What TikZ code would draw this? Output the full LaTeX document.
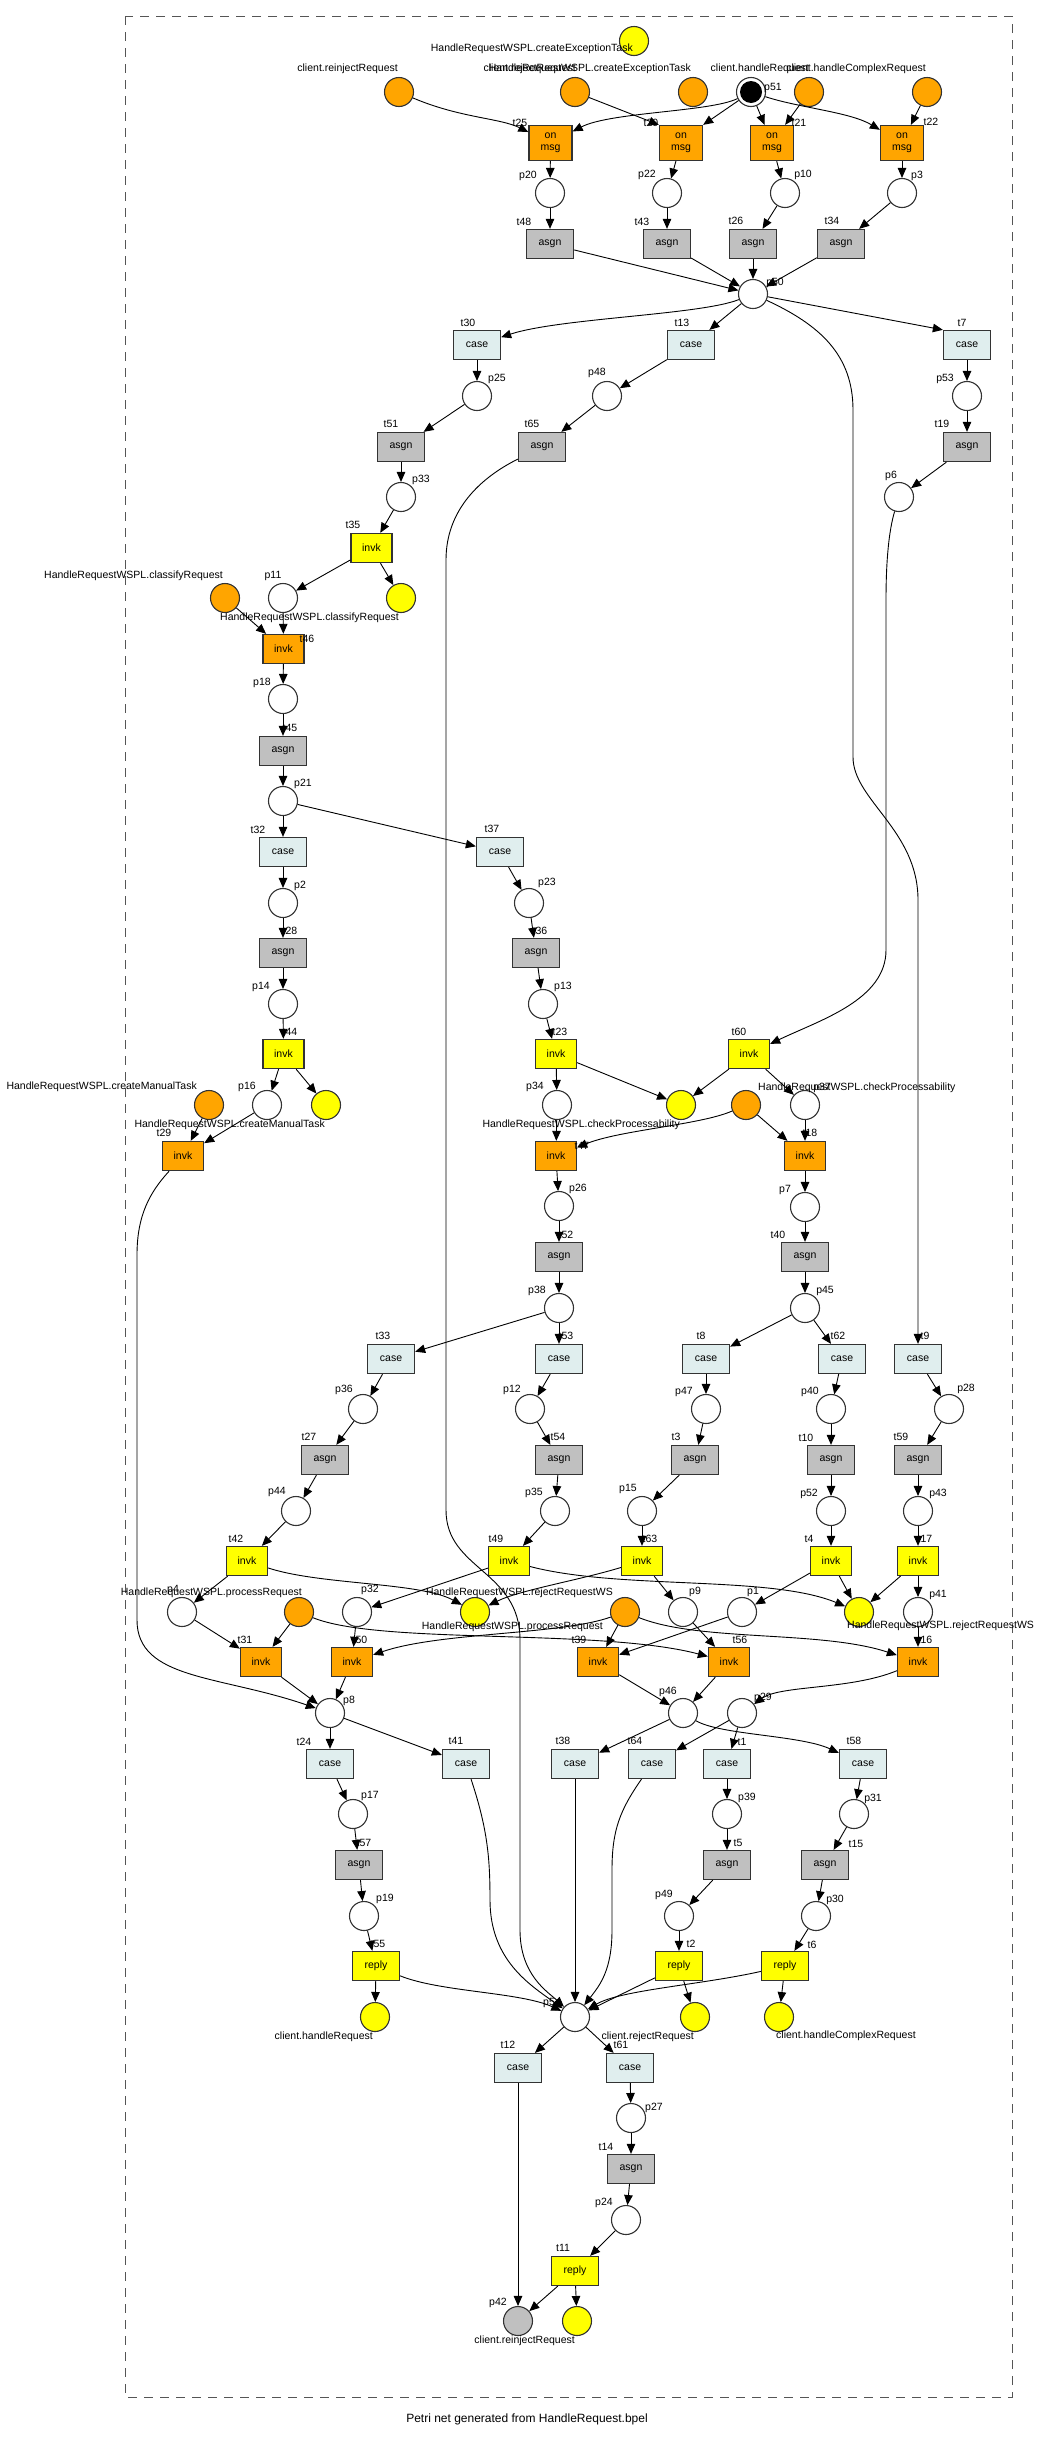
\documentclass[tikz,border=0pt]{standalone}
\usepackage{fontspec}
\setmainfont{Liberation Sans}
\usetikzlibrary{arrows.meta}
\definecolor{orangeC}{HTML}{FFA500}
\definecolor{yellowC}{HTML}{FFFF00}
\definecolor{grayC}{HTML}{C0C0C0}
\definecolor{caseC}{HTML}{E0EEEE}
\definecolor{bdC}{HTML}{333333}
\definecolor{frameC}{HTML}{555555}
\newcommand\lblfont{\fontsize{10.5}{11.7}\selectfont}
\tikzset{
 pl/.style={circle, draw=bdC, line width=1.1pt, minimum size=29pt, inner sep=0pt, fill=white},
 plO/.style={pl, fill=orangeC},
 plY/.style={pl, fill=yellowC},
 plG/.style={pl, fill=grayC},
 tr/.style={rectangle, draw=bdC, line width=1.3pt, minimum width=47pt, minimum height=29pt, inner sep=0pt, font=\lblfont},
 asgn/.style={tr, fill=grayC},
 casebox/.style={tr, fill=caseC},
 invkY/.style={tr, minimum width=41pt, fill=yellowC},
 invkO/.style={tr, minimum width=41pt, fill=orangeC},
 replybox/.style={tr, fill=yellowC},
 onmsg/.style={tr, minimum width=43pt, minimum height=35pt, fill=orangeC, align=center},
 lab/.style={inner sep=0pt, font=\lblfont},
 edg/.style={draw=black, line width=0.9pt, -{Triangle[length=10pt,width=8.5pt]}},
}
\begin{document}
\begin{tikzpicture}[x=1pt,y=-1pt]
\useasboundingbox (0,0) rectangle (1057,2439);
\fill[white] (0,0) rectangle (1057,2439);
\draw[frameC, line width=1pt, dash pattern=on 9pt off 7pt] (125,16) rectangle (1012,2397);

% ---------- places ----------
\node[plO] (oRein) at (399,92) {};
\node[plO] (oRej) at (575,92) {};
\node[plO] (oExc) at (693,92) {};
\node[pl] (p51) at (751,92) {};
\fill[black] (p51.center) circle[radius=11pt];
\node[plO] (oHR) at (809,92) {};
\node[plO] (oHCR) at (927,92) {};
\node[plY] (yExc) at (634,41) {};
\node[pl] (p20) at (550,193) {};
\node[pl] (p22) at (667,193) {};
\node[pl] (p10) at (785,193) {};
\node[pl] (p3) at (902,193) {};
\node[pl] (p50) at (753,294) {};
\node[pl] (p25) at (477,396) {};
\node[pl] (p48) at (607,396) {};
\node[pl] (p53) at (967,396) {};
\node[pl] (p33) at (401,497) {};
\node[pl] (p6) at (899,497) {};
\node[pl] (p11) at (283,598) {};
\node[plY] (yCls) at (401,598) {};
\node[plO] (oCls) at (225,598) {};
\node[pl] (p18) at (283,699) {};
\node[pl] (p21) at (283,801) {};
\node[pl] (p2) at (283,903) {};
\node[pl] (p23) at (529,903) {};
\node[pl] (p14) at (283,1004) {};
\node[pl] (p13) at (543,1004) {};
\node[pl] (p16) at (267,1105) {};
\node[plY] (yMan) at (326,1105) {};
\node[plO] (oMan) at (209,1105) {};
\node[pl] (p34) at (557,1105) {};
\node[plY] (yChk) at (681,1105) {};
\node[plO] (oChk) at (746,1105) {};
\node[pl] (p37) at (805,1105) {};
\node[pl] (p26) at (559,1206) {};
\node[pl] (p7) at (805,1207) {};
\node[pl] (p38) at (559,1308) {};
\node[pl] (p45) at (805,1308) {};
\node[pl] (p36) at (363,1409) {};
\node[pl] (p12) at (530,1409) {};
\node[pl] (p47) at (706,1409) {};
\node[pl] (p40) at (831,1409) {};
\node[pl] (p28) at (949,1409) {};
\node[pl] (p44) at (296,1511) {};
\node[pl] (p35) at (555,1511) {};
\node[pl] (p15) at (642,1511) {};
\node[pl] (p52) at (831,1511) {};
\node[pl] (p43) at (918,1511) {};
\node[pl] (p4) at (182,1612) {};
\node[plO] (oProc) at (299,1612) {};
\node[pl] (p32) at (357,1612) {};
\node[plY] (yRejA) at (475,1612) {};
\node[plO] (oRejWS) at (625,1612) {};
\node[pl] (p9) at (683,1612) {};
\node[pl] (p1) at (742,1612) {};
\node[plY] (yRejB) at (859,1612) {};
\node[pl] (p41) at (918,1612) {};
\node[pl] (p8) at (330,1713) {};
\node[pl] (p46) at (683,1713) {};
\node[pl] (p29) at (742,1713) {};
\node[pl] (p17) at (353,1814) {};
\node[pl] (p39) at (727,1814) {};
\node[pl] (p31) at (854,1814) {};
\node[pl] (p19) at (364,1916) {};
\node[pl] (p49) at (679,1916) {};
\node[pl] (p30) at (816,1916) {};
\node[plY] (yHR) at (375,2017) {};
\node[pl] (pM) at (575,2017) {};
\node[plY] (yRejR) at (695,2017) {};
\node[plY] (yHCR) at (779,2017) {};
\node[pl] (p27) at (631,2118) {};
\node[pl] (p24) at (626,2220) {};
\node[plG] (p42) at (518,2321) {};
\node[plY] (yRein) at (577,2321) {};

% ---------- transitions ----------
\node[onmsg] (t25) at (550.5,143) {on\\msg};
\node[onmsg] (t20) at (681,143) {on\\msg};
\node[onmsg] (t21) at (772,143) {on\\msg};
\node[onmsg] (t22) at (902,143) {on\\msg};
\node[asgn] (t48) at (550,244) {asgn};
\node[asgn] (t43) at (667,244) {asgn};
\node[asgn] (t26) at (753,244) {asgn};
\node[asgn] (t34) at (841,244) {asgn};
\node[casebox] (t30) at (477,345) {case};
\node[casebox] (t13) at (691,345) {case};
\node[casebox] (t7) at (967,345) {case};
\node[asgn] (t51) at (401,447) {asgn};
\node[asgn] (t65) at (542,447) {asgn};
\node[asgn] (t19) at (967,447) {asgn};
\node[invkY] (t35) at (371.5,548) {invk};
\node[invkO] (t46) at (283.5,649) {invk};
\node[asgn] (t45) at (283,751) {asgn};
\node[casebox] (t32) at (283,852) {case};
\node[casebox] (t37) at (500,852) {case};
\node[asgn] (t28) at (283,953) {asgn};
\node[asgn] (t36) at (536,953) {asgn};
\node[invkY] (t44) at (283.5,1054) {invk};
\node[invkY] (t23) at (556,1054) {invk};
\node[invkY] (t60) at (749,1054) {invk};
\node[invkO] (t29) at (183,1156) {invk};
\node[invkO] (t47) at (556,1156) {invk};
\node[invkO] (t18) at (805,1156) {invk};
\node[asgn] (t52) at (559,1257) {asgn};
\node[asgn] (t40) at (805,1257) {asgn};
\node[casebox] (t33) at (391,1359) {case};
\node[casebox] (t53) at (559,1359) {case};
\node[casebox] (t8) at (706,1359) {case};
\node[casebox] (t62) at (842,1359) {case};
\node[casebox] (t9) at (918,1359) {case};
\node[asgn] (t27) at (325,1460) {asgn};
\node[asgn] (t54) at (559,1460) {asgn};
\node[asgn] (t3) at (695,1460) {asgn};
\node[asgn] (t10) at (831,1460) {asgn};
\node[asgn] (t59) at (918,1460) {asgn};
\node[invkY] (t42) at (247,1561) {invk};
\node[invkY] (t49) at (509,1561) {invk};
\node[invkY] (t63) at (642,1561) {invk};
\node[invkY] (t4) at (831,1561) {invk};
\node[invkY] (t17) at (918,1561) {invk};
\node[invkO] (t31) at (261,1662) {invk};
\node[invkO] (t50) at (352,1662) {invk};
\node[invkO] (t39) at (598,1662) {invk};
\node[invkO] (t56) at (729,1662) {invk};
\node[invkO] (t16) at (918,1662) {invk};
\node[casebox] (t24) at (330,1764) {case};
\node[casebox] (t41) at (466,1764) {case};
\node[casebox] (t38) at (575,1764) {case};
\node[casebox] (t64) at (652,1764) {case};
\node[casebox] (t1) at (727,1764) {case};
\node[casebox] (t58) at (863,1764) {case};
\node[asgn] (t57) at (359,1865) {asgn};
\node[asgn] (t5) at (727,1865) {asgn};
\node[asgn] (t15) at (825,1865) {asgn};
\node[replybox] (t55) at (376,1966) {reply};
\node[replybox] (t2) at (679,1966) {reply};
\node[replybox] (t6) at (785,1966) {reply};
\node[casebox] (t12) at (518,2068) {case};
\node[casebox] (t61) at (630,2068) {case};
\node[asgn] (t14) at (631,2169) {asgn};
\node[replybox] (t11) at (575,2271) {reply};

% ---------- arcs ----------
\draw[edg] (oRein) .. controls (460,118) and (500,118) .. (t25);
\draw[edg] (oRej) -- (t20.north west);
\draw[edg] (p51) .. controls (710,112) and (610,112) .. (t25);
\draw[edg] (p51) -- (t20.north east);
\draw[edg] (p51) -- (t21);
\draw[edg] (p51) .. controls (800,108) and (850,112) .. (t22);
\draw[edg] (oHR) -- (t21);
\draw[edg] (oHCR) -- (t22);
\draw[edg] (t25) -- (p20);
\draw[edg] (t20) -- (p22);
\draw[edg] (t21) -- (p10);
\draw[edg] (t22) -- (p3);
\draw[edg] (p20) -- (t48);
\draw[edg] (p22) -- (t43);
\draw[edg] (p10) -- (t26);
\draw[edg] (p3) -- (t34);
\draw[edg] (t48) -- (p50);
\draw[edg] (t43) -- (p50);
\draw[edg] (t26) -- (p50);
\draw[edg] (t34) -- (p50);
\draw[edg] (p50) .. controls (700,315) and (560,318) .. (t30);
\draw[edg] (p50) -- (t13);
\draw[edg] (p50) -- (t7.north west);
\draw[edg] (p50) .. controls (820,325) and (853,355) .. (853,410) -- (853,757) .. controls (853,800) and (918,830) .. (918,900) -- (t9);
\draw[edg] (t30) -- (p25);
\draw[edg] (t13) -- (p48);
\draw[edg] (t7) -- (p53);
\draw[edg] (p25) -- (t51);
\draw[edg] (p48) -- (t65);
\draw[edg] (p53) -- (t19);
\draw[edg] (t51) -- (p33);
\draw[edg] (t19) -- (p6);
\draw[edg] (p33) -- (t35);
\draw[edg] (t35) -- (p11);
\draw[edg] (t35) -- (yCls);
\draw[edg] (oCls) -- (t46);
\draw[edg] (p11) -- (t46);
\draw[edg] (t46) -- (p18);
\draw[edg] (p18) -- (t45);
\draw[edg] (t45) -- (p21);
\draw[edg] (p21) -- (t32);
\draw[edg] (p21) -- (t37);
\draw[edg] (t32) -- (p2);
\draw[edg] (p2) -- (t28);
\draw[edg] (t28) -- (p14);
\draw[edg] (p14) -- (t44);
\draw[edg] (t44) -- (p16);
\draw[edg] (t44) -- (yMan);
\draw[edg] (oMan) -- (t29);
\draw[edg] (p16) -- (t29);
\draw[edg] (t37) -- (p23);
\draw[edg] (p23) -- (t36);
\draw[edg] (t36) -- (p13);
\draw[edg] (p13) -- (t23);
\draw[edg] (t23) -- (p34);
\draw[edg] (t23) -- (yChk);
\draw[edg] (p6) .. controls (889,530) and (886,560) .. (886,600) -- (886,950) .. controls (886,1000) and (820,1020) .. (t60);
\draw[edg] (t60) -- (yChk);
\draw[edg] (t60) -- (p37);
\draw[edg] (p34) -- (t47);
\draw[edg] (oChk) .. controls (700,1125) and (620,1130) .. (t47);
\draw[edg] (oChk) -- (t18);
\draw[edg] (p37) -- (t18);
\draw[edg] (t47) -- (p26);
\draw[edg] (t18) -- (p7);
\draw[edg] (p26) -- (t52);
\draw[edg] (p7) -- (t40);
\draw[edg] (t52) -- (p38);
\draw[edg] (t40) -- (p45);
\draw[edg] (p38) -- (t33);
\draw[edg] (p38) -- (t53);
\draw[edg] (p45) -- (t8);
\draw[edg] (p45) -- (t62);
\draw[edg] (t33) -- (p36);
\draw[edg] (p36) -- (t27);
\draw[edg] (t27) -- (p44);
\draw[edg] (p44) -- (t42);
\draw[edg] (t53) -- (p12);
\draw[edg] (p12) -- (t54);
\draw[edg] (t54) -- (p35);
\draw[edg] (p35) -- (t49);
\draw[edg] (t8) -- (p47);
\draw[edg] (p47) -- (t3);
\draw[edg] (t3) -- (p15);
\draw[edg] (p15) -- (t63);
\draw[edg] (t62) -- (p40);
\draw[edg] (p40) -- (t10);
\draw[edg] (t10) -- (p52);
\draw[edg] (p52) -- (t4);
\draw[edg] (t9) -- (p28);
\draw[edg] (p28) -- (t59);
\draw[edg] (t59) -- (p43);
\draw[edg] (p43) -- (t17);
\draw[edg] (t42) -- (p4);
\draw[edg] (t42) .. controls (320,1585) and (420,1582) .. (yRejA);
\draw[edg] (t49) -- (p32);
\draw[edg] (t49) .. controls (620,1590) and (770,1575) .. (yRejB);
\draw[edg] (t63) .. controls (580,1580) and (520,1590) .. (yRejA);
\draw[edg] (t63) -- (p9);
\draw[edg] (t4) -- (p1);
\draw[edg] (t4) -- (yRejB);
\draw[edg] (t17) -- (yRejB);
\draw[edg] (t17) -- (p41);
\draw[edg] (p4) -- (t31);
\draw[edg] (oProc) -- (t31);
\draw[edg] (p32) -- (t50);
\draw[edg] (oProc) .. controls (380,1645) and (600,1628) .. (t56);
\draw[edg] (oRejWS) .. controls (560,1635) and (440,1632) .. (t50);
\draw[edg] (oRejWS) -- (t39);
\draw[edg] (oRejWS) .. controls (700,1642) and (820,1630) .. (t16);
\draw[edg] (p9) -- (t56);
\draw[edg] (p1) -- (t39);
\draw[edg] (p41) -- (t16);
\draw[edg] (t29) .. controls (150,1192) and (137,1215) .. (137,1255) -- (137,1620) .. controls (137,1680) and (220,1675) .. (p8);
\draw[edg] (t31) -- (p8);
\draw[edg] (t50) -- (p8);
\draw[edg] (t39) -- (p46);
\draw[edg] (t56) -- (p46);
\draw[edg] (t16) .. controls (850,1690) and (780,1685) .. (p29);
\draw[edg] (p8) -- (t24);
\draw[edg] (p8) -- (t41);
\draw[edg] (p46) -- (t38);
\draw[edg] (p46) .. controls (720,1735) and (800,1735) .. (t58);
\draw[edg] (p29) -- (t64);
\draw[edg] (p29) -- (t1);
\draw[edg] (t24) -- (p17);
\draw[edg] (p17) -- (t57);
\draw[edg] (t57) -- (p19);
\draw[edg] (p19) -- (t55);
\draw[edg] (t55) -- (yHR);
\draw[edg] (t1) -- (p39);
\draw[edg] (p39) -- (t5);
\draw[edg] (t5) -- (p49);
\draw[edg] (p49) -- (t2);
\draw[edg] (t2) -- (yRejR);
\draw[edg] (t58) -- (p31);
\draw[edg] (p31) -- (t15);
\draw[edg] (t15) -- (p30);
\draw[edg] (p30) -- (t6);
\draw[edg] (t6) -- (yHCR);
\draw[edg] (t41) .. controls (488,1830) and (490,1860) .. (490,1900) .. controls (490,1960) and (530,1985) .. (pM);
\draw[edg] (t65) .. controls (480,478) and (446,510) .. (446,560) -- (446,1510) .. controls (446,1570) and (520,1570) .. (520,1640) -- (520,1930) .. controls (520,1975) and (548,1992) .. (pM);
\draw[edg] (t38) -- (pM);
\draw[edg] (t55) .. controls (440,1992) and (520,1992) .. (pM);
\draw[edg] (t64) .. controls (620,1810) and (612,1830) .. (612,1870) -- (612,1930) .. controls (612,1970) and (600,1985) .. (pM);
\draw[edg] (t2) -- (pM);
\draw[edg] (t6) .. controls (700,1985) and (620,1990) .. (pM);
\draw[edg] (pM) -- (t12);
\draw[edg] (pM) -- (t61);
\draw[edg] (t12) -- (p42);
\draw[edg] (t61) -- (p27);
\draw[edg] (p27) -- (t14);
\draw[edg] (t14) -- (p24);
\draw[edg] (p24) -- (t11);
\draw[edg] (t11) -- (p42);
\draw[edg] (t11) -- (yRein);

% ---------- transition name labels ----------
\node[lab] (lt25) at (520,123) {t25};
\node[lab] (lt20) at (651,123) {t20};
\node[lab] (lt21) at (799,123) {t21};
\node[lab] (lt22) at (931,122) {t22};
\node[lab] (lt48) at (524,222) {t48};
\node[lab] (lt43) at (642,222) {t43};
\node[lab] (lt26) at (736,221) {t26};
\node[lab] (lt34) at (832,221) {t34};
\node[lab] (lt30) at (468,323) {t30};
\node[lab] (lt13) at (682,323) {t13};
\node[lab] (lt7) at (962,323) {t7};
\node[lab] (lt51) at (391,424) {t51};
\node[lab] (lt65) at (532,424) {t65};
\node[lab] (lt19) at (942,424) {t19};
\node[lab] (lt35) at (353,525) {t35};
\node[lab] (lt46) at (307,639) {t46};
\node[lab] (lt45) at (290,728) {t45};
\node[lab] (lt32) at (258,830) {t32};
\node[lab] (lt37) at (492,829) {t37};
\node[lab] (lt28) at (290,931) {t28};
\node[lab] (lt36) at (540,931) {t36};
\node[lab] (lt44) at (290,1032) {t44};
\node[lab] (lt23) at (560,1032) {t23};
\node[lab] (lt60) at (739,1032) {t60};
\node[lab] (lt29) at (164,1133) {t29};
\node[lab] (lt47) at (582,1146) {t47};
\node[lab] (lt18) at (810,1133) {t18};
\node[lab] (lt40) at (778,1235) {t40};
\node[lab] (lt52) at (566,1235) {t52};
\node[lab] (lt33) at (383,1336) {t33};
\node[lab] (lt53) at (566,1336) {t53};
\node[lab] (lt8) at (701,1336) {t8};
\node[lab] (lt62) at (838,1336) {t62};
\node[lab] (lt9) at (925,1336) {t9};
\node[lab] (lt27) at (309,1437) {t27};
\node[lab] (lt54) at (558,1437) {t54};
\node[lab] (lt3) at (676,1437) {t3};
\node[lab] (lt10) at (806,1438) {t10};
\node[lab] (lt59) at (901,1437) {t59};
\node[lab] (lt42) at (236,1539) {t42};
\node[lab] (lt49) at (496,1539) {t49};
\node[lab] (lt63) at (650,1539) {t63};
\node[lab] (lt4) at (809,1539) {t4};
\node[lab] (lt17) at (925,1539) {t17};
\node[lab] (lt31) at (245,1640) {t31};
\node[lab] (lt50) at (360,1640) {t50};
\node[lab] (lt39) at (579,1640) {t39};
\node[lab] (lt56) at (740,1640) {t56};
\node[lab] (lt16) at (925,1640) {t16};
\node[lab] (lt24) at (304,1742) {t24};
\node[lab] (lt41) at (456,1741) {t41};
\node[lab] (lt38) at (563,1741) {t38};
\node[lab] (lt64) at (635,1741) {t64};
\node[lab] (lt1) at (742,1742) {t1};
\node[lab] (lt58) at (854,1741) {t58};
\node[lab] (lt57) at (364,1843) {t57};
\node[lab] (lt5) at (738,1843) {t5};
\node[lab] (lt15) at (856,1844) {t15};
\node[lab] (lt55) at (378,1944) {t55};
\node[lab] (lt2) at (691,1944) {t2};
\node[lab] (lt6) at (812,1945) {t6};
\node[lab] (lt12) at (508,2045) {t12};
\node[lab] (lt61) at (621,2045) {t61};
\node[lab] (lt14) at (606,2147) {t14};
\node[lab] (lt11) at (563,2248) {t11};

% ---------- place name labels ----------
\node[lab] (lp51) at (773,88) {p51};
\node[lab] (lp20) at (528,176) {p20};
\node[lab] (lp22) at (647,175) {p22};
\node[lab] (lp10) at (803,175) {p10};
\node[lab] (lp3) at (917,176) {p3};
\node[lab] (lp50) at (775,283) {p50};
\node[lab] (lp25) at (497,379) {p25};
\node[lab] (lp48) at (597,373) {p48};
\node[lab] (lp53) at (945,379) {p53};
\node[lab] (lp33) at (421,480) {p33};
\node[lab] (lp6) at (891,476) {p6};
\node[lab] (lp11) at (273,576) {p11};
\node[lab] (lp18) at (262,683) {p18};
\node[lab] (lp21) at (303,784) {p21};
\node[lab] (lp2) at (300,886) {p2};
\node[lab] (lp23) at (547,883) {p23};
\node[lab] (lp14) at (261,987) {p14};
\node[lab] (lp13) at (563,987) {p13};
\node[lab] (lp16) at (247,1087) {p16};
\node[lab] (lp34) at (535,1087) {p34};
\node[lab] (lp37) at (822,1088) {p37};
\node[lab] (lp26) at (578,1189) {p26};
\node[lab] (lp7) at (785,1190) {p7};
\node[lab] (lp38) at (537,1291) {p38};
\node[lab] (lp45) at (825,1291) {p45};
\node[lab] (lp36) at (344,1390) {p36};
\node[lab] (lp12) at (512,1390) {p12};
\node[lab] (lp47) at (684,1392) {p47};
\node[lab] (lp40) at (810,1392) {p40};
\node[lab] (lp28) at (966,1389) {p28};
\node[lab] (lp44) at (277,1492) {p44};
\node[lab] (lp35) at (534,1493) {p35};
\node[lab] (lp15) at (628,1489) {p15};
\node[lab] (lp52) at (809,1494) {p52};
\node[lab] (lp43) at (938,1494) {p43};
\node[lab] (lp4) at (173,1590) {p4};
\node[lab] (lp32) at (370,1590) {p32};
\node[lab] (lp9) at (695,1592) {p9};
\node[lab] (lp1) at (753,1592) {p1};
\node[lab] (lp41) at (938,1595) {p41};
\node[lab] (lp8) at (349,1701) {p8};
\node[lab] (lp46) at (668,1692) {p46};
\node[lab] (lp29) at (763,1698) {p29};
\node[lab] (lp17) at (370,1796) {p17};
\node[lab] (lp39) at (747,1798) {p39};
\node[lab] (lp31) at (873,1799) {p31};
\node[lab] (lp19) at (385,1899) {p19};
\node[lab] (lp49) at (664,1895) {p49};
\node[lab] (lp30) at (835,1900) {p30};
\node[lab] (lpM) at (549,2003) {p5};
\node[lab] (lp27) at (654,2108) {p27};
\node[lab] (lp24) at (604,2203) {p24};
\node[lab] (lp42) at (498,2303) {p42};

% ---------- channel labels ----------
\node[lab, anchor=east] (x1) at (633,49) {HandleRequestWSPL.createExceptionTask};
\node[lab, anchor=east] (x2) at (398,69) {client.reinjectRequest};
\node[lab, anchor=east] (x3) at (576,69) {client.rejectRequest};
\node[lab, anchor=east] (x4) at (691,69) {HandleRequestWSPL.createExceptionTask};
\node[lab, anchor=east] (x5) at (809,69) {client.handleRequest};
\node[lab, anchor=east] (x6) at (926,69) {client.handleComplexRequest};
\node[lab, anchor=east] (x7) at (223,576) {HandleRequestWSPL.classifyRequest};
\node[lab, anchor=east] (x8) at (399,618) {HandleRequestWSPL.classifyRequest};
\node[lab, anchor=east] (x9) at (197,1087) {HandleRequestWSPL.createManualTask};
\node[lab, anchor=east] (x10) at (325,1125) {HandleRequestWSPL.createManualTask};
\node[lab, anchor=east] (x11) at (680,1125) {HandleRequestWSPL.checkProcessability};
\node[lab, anchor=west] (x12) at (758,1088) {HandleRequestWSPL.checkProcessability};
\node[lab, anchor=east] (x13) at (302,1593) {HandleRequestWSPL.processRequest};
\node[lab, anchor=east] (x14) at (613,1593) {HandleRequestWSPL.rejectRequestWS};
\node[lab, anchor=east] (x15) at (603,1627) {HandleRequestWSPL.processRequest};
\node[lab, anchor=west] (x16) at (847,1626) {HandleRequestWSPL.rejectRequestWS};
\node[lab, anchor=east] (x17) at (373,2037) {client.handleRequest};
\node[lab, anchor=east] (x18) at (694,2037) {client.rejectRequest};
\node[lab, anchor=west] (x19) at (776,2036) {client.handleComplexRequest};
\node[lab, anchor=east] (x20) at (575,2341) {client.reinjectRequest};

\node[inner sep=0pt, font=\fontsize{12}{14}\selectfont] (cap) at (527,2419) {Petri net generated from HandleRequest.bpel};
\end{tikzpicture}
\end{document}
